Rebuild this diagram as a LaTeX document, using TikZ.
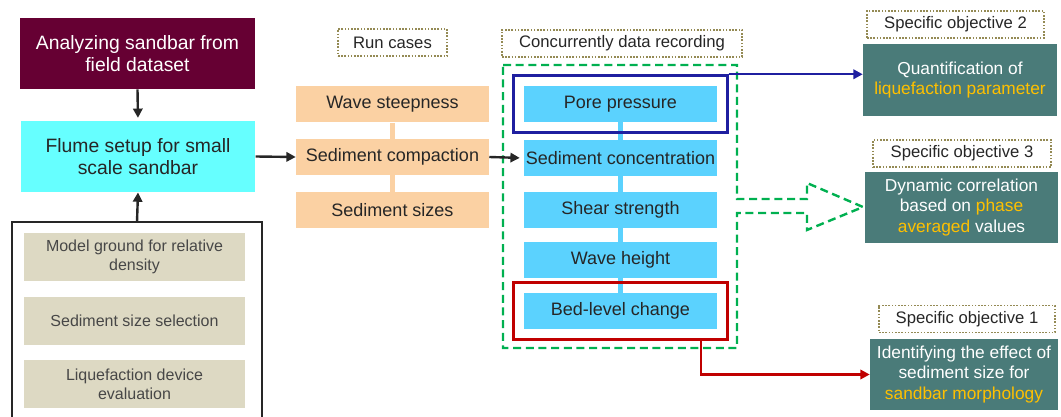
\documentclass[tikz,border=0pt]{standalone}
\usepackage{fontspec}
\setmainfont{Liberation Sans}
\usetikzlibrary{arrows.meta,positioning,fit}
\definecolor{SBmaroon}{HTML}{660033}
\definecolor{SBcyan}{HTML}{66FFFF}
\definecolor{SBbeige}{HTML}{DDD9C3}
\definecolor{SBorange}{HTML}{FBD1A3}
\definecolor{SBblue}{HTML}{5BD2FE}
\definecolor{SBteal}{HTML}{4A7B79}
\definecolor{SBgold}{HTML}{FFC000}
\definecolor{SBolive}{HTML}{948A54}
\definecolor{SBgreen}{HTML}{00B050}
\definecolor{SBnavy}{HTML}{1F1FA0}
\definecolor{SBred}{HTML}{C00000}
\definecolor{SBink}{HTML}{262626}
\newcommand{\gold}[1]{\textcolor{SBgold}{#1}}
\tikzset{mainbox/.style={align=center,minimum width=176pt,minimum height=53.5pt,
 inner sep=0pt,text=SBink,font=\fontsize{14.5}{17}\selectfont},
 prepbox/.style={fill=SBbeige,text=SBink!85,align=center,minimum width=165.75pt,
 minimum height=36pt,inner sep=0pt,font=\fontsize{12}{14}\selectfont},
 casebox/.style={fill=SBorange,text=SBink,minimum width=144.75pt,minimum height=27pt,
 inner sep=0pt,font=\fontsize{13.5}{16}\selectfont},
 databox/.style={casebox,fill=SBblue},
 tagbox/.style={draw=SBolive,dash pattern=on 1.2pt off 1.2pt,line width=1.3pt,
 minimum height=20.25pt,inner sep=0pt,text=SBink,font=\fontsize{12.5}{15}\selectfont},
 goalbox/.style={fill=SBteal,text=white,align=center,minimum height=53.5pt,
 inner sep=0pt,font=\fontsize{13}{15.5}\selectfont},
 sbarr/.style={-{Triangle[length=7pt,width=7pt]},line width=1.8pt,draw=SBink}}

\begin{document}
\begin{tikzpicture}[x=0.75pt,y=-0.75pt]
\useasboundingbox (0,0) rectangle (1061,417);
% left column
\node[mainbox,fill=SBmaroon,text=white] (field) at (137.5,53.5) {Analyzing sandbar from\\field dataset};
\node[mainbox,fill=SBcyan] (flume) at (138,156.5) {Flume setup for small\\scale sandbar};
\draw[line width=1.8pt,draw=SBink] (12,420) -- (12,222) -- (262,222) -- (262,420);
\coordinate (prep) at (137,222);
\node[prepbox] (density) at (134.5,257) {Model ground for relative\\density};
\node[prepbox] (sizesel) at (134.5,321) {Sediment size selection};
\node[prepbox] (device) at (134.5,384) {Liquefaction device\\evaluation};
\draw[sbarr,shorten >=2pt] (field.south) -- (flume.north);
\draw[sbarr] (prep) -- (flume.south);
% run cases
\node[tagbox,minimum width=81.75pt] (runlbl) at (392.5,42.5) {Run cases};
\node[casebox] (steep) at (392.5,104.5) {Wave steepness};
\node[casebox] (compact) at (392.5,157) {Sediment compaction};
\node[casebox] (sizes) at (392.5,210) {Sediment sizes};
\draw[line width=3.5pt,SBorange] (steep) -- (compact);
\draw[line width=3.5pt,SBorange] (compact) -- (sizes);
\draw[sbarr] (flume.east) -- (compact.west);
% data recording
\node[tagbox,minimum width=180pt] (reclbl) at (622,43.5) {Concurrently data recording};
\draw[SBgreen,line width=1.8pt,dash pattern=on 6pt off 3.5pt]
 (503,65) -- (737,65) -- (737,199) -- (807,199) -- (807,183) -- (863,207)
 -- (807,230) -- (807,213) -- (737,213) -- (737,348) -- (503,348) -- cycle;
\node[databox] (pore) at (620.5,104) {Pore pressure};
\node[databox] (conc) at (620.5,158) {Sediment concentration};
\node[databox] (shear) at (620.5,210) {Shear strength};
\node[databox] (height) at (620.5,260) {Wave height};
\node[databox] (bed) at (620.5,311) {Bed-level change};
\foreach \a/\b in {pore/conc,conc/shear,shear/height,height/bed}
 \draw[line width=3.5pt,SBblue] (\a) -- (\b);
\draw[sbarr,shorten >=3pt] (compact.east) -- (conc.west);
\node[draw=SBnavy,line width=2.2pt,fit=(pore),inner sep=7.5pt] (blueframe) {};
\node[draw=SBred,line width=2.2pt,fit=(bed),inner sep=7.5pt] (redframe) {};
% objectives
\node[tagbox,minimum width=132.75pt] (goal2lbl) at (955.5,24.5) {Specific objective 2};
\node[goalbox,minimum width=145.5pt] (goal2) at (960,80) {Quantification of\\\gold{liquefaction parameter}};
\node[tagbox,minimum width=133.5pt] (goal3lbl) at (962,153.5) {Specific objective 3};
\node[goalbox,minimum width=144.75pt] (goal3) at (961.5,207.5) {Dynamic correlation\\based on \gold{phase}\\\gold{averaged} values};
\node[tagbox,minimum width=132pt] (goal1lbl) at (967,319) {Specific objective 1};
\node[goalbox,minimum width=141pt] (goal1) at (964,374.5) {Identifying the effect of\\sediment size for\\\gold{sandbar morphology}};
\draw[-{Triangle[length=7pt,width=7pt]},line width=1.8pt,SBnavy] (blueframe.north east) -- (blueframe.north east -| goal2.west);
\draw[-{Triangle[length=7pt,width=7pt]},line width=1.8pt,SBred] ([xshift=-21pt]redframe.south east) |- (goal1.west);
\end{tikzpicture}
\end{document}
